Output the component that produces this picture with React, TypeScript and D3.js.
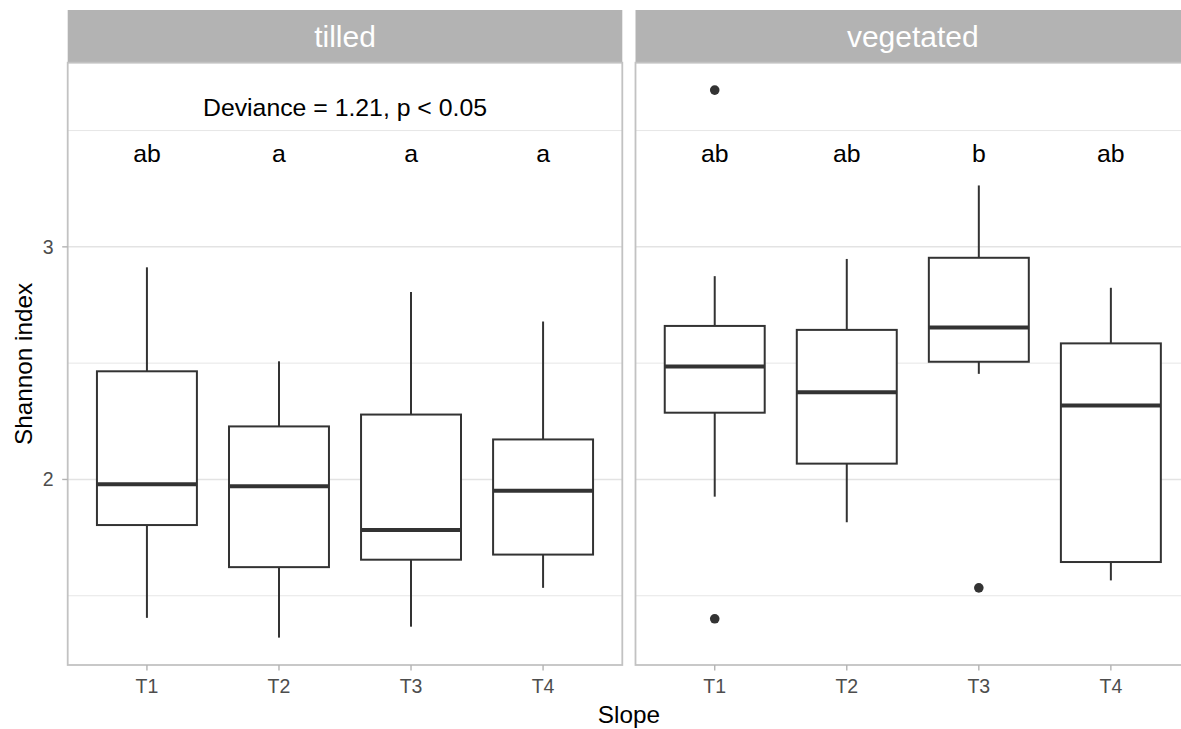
import React from "react";
import * as d3 from "d3";

const categories = ["T1", "T2", "T3", "T4"];
const facets = ["tilled", "vegetated"];

// five-number summaries per facet (order follows `facets`)
const lowerWhisker = [
  [1.405, 1.32, 1.367, 1.534],
  [1.926, 1.816, 2.454, 1.566],
];
const q1 = [
  [1.804, 1.623, 1.655, 1.677],
  [2.287, 2.068, 2.506, 1.645],
];
const medians = [
  [1.979, 1.971, 1.783, 1.951],
  [2.486, 2.375, 2.653, 2.318],
];
const q3 = [
  [2.465, 2.228, 2.279, 2.172],
  [2.66, 2.643, 2.953, 2.585],
];
const upperWhisker = [
  [2.912, 2.508, 2.806, 2.679],
  [2.874, 2.948, 3.264, 2.824],
];
const outliers = [
  [[], [], [], []],
  [[1.401, 3.674], [], [1.534], []],
];
const letters = [
  ["ab", "a", "a", "a"],
  ["ab", "ab", "b", "ab"],
];
const letterY = 3.4;
const devianceText = "Deviance = 1.21, p < 0.05";
const devianceY = 3.6;
const yTicks = [2, 3];
const yMinor = [1.5, 2.5, 3.5];

const W = 1181;
const H = 729;
const panelLeft = [67.7, 635.5];
const panelWidth = 554.6;
const panelTop = 62.7;
const panelBottom = 665;
const stripTop = 10;
const FONT = "'Liberation Sans', Arial, Helvetica, sans-serif";

export default function App() {
  const allVals: number[] = [];
  for (let f = 0; f < facets.length; f++) {
    allVals.push(...lowerWhisker[f], ...upperWhisker[f]);
    outliers[f].forEach((o) => allVals.push(...o));
  }
  const [mn, mx] = d3.extent(allVals) as [number, number];
  const pad = (mx - mn) * 0.05;
  const y = d3.scaleLinear().domain([mn - pad, mx + pad]).range([panelBottom, panelTop]);

  return (
    <svg
      width={W}
      height={H}
      style={{ position: "absolute", left: 0, top: 0, display: "block", background: "#fff" }}
      fontFamily={FONT}
    >
      <rect x={0} y={0} width={W} height={H} fill="#fff" />
      {facets.map((facet, f) => {
        const x0 = panelLeft[f];
        const x = d3
          .scalePoint<string>()
          .domain(categories)
          .range([x0, x0 + panelWidth])
          .padding(0.6);
        const step = x.step();
        const bw = step * 0.757;
        return (
          <g key={facet}>
            {/* strip */}
            <rect x={x0} y={stripTop} width={panelWidth} height={panelTop - stripTop} fill="#B3B3B3" />
            <text
              x={x0 + panelWidth / 2}
              y={(stripTop + panelTop) / 2}
              dy="0.34em"
              textAnchor="middle"
              fontSize={30}
              fill="#fff"
            >
              {facet}
            </text>
            {/* grid */}
            {yMinor.map((v) => (
              <line key={"mi" + v} x1={x0} x2={x0 + panelWidth} y1={y(v)} y2={y(v)} stroke="#E6E6E6" strokeWidth={1} />
            ))}
            {yTicks.map((v) => (
              <line key={"ma" + v} x1={x0} x2={x0 + panelWidth} y1={y(v)} y2={y(v)} stroke="#E3E3E3" strokeWidth={1.5} />
            ))}
            {/* boxes */}
            {categories.map((c, i) => {
              const cx = x(c)!;
              return (
                <g key={c} stroke="#333333" fill="none">
                  <line x1={cx} x2={cx} y1={y(upperWhisker[f][i])} y2={y(q3[f][i])} strokeWidth={2} />
                  <line x1={cx} x2={cx} y1={y(q1[f][i])} y2={y(lowerWhisker[f][i])} strokeWidth={2} />
                  <rect
                    x={cx - bw / 2}
                    y={y(q3[f][i])}
                    width={bw}
                    height={y(q1[f][i]) - y(q3[f][i])}
                    fill="#fff"
                    strokeWidth={2}
                  />
                  <line x1={cx - bw / 2} x2={cx + bw / 2} y1={y(medians[f][i])} y2={y(medians[f][i])} strokeWidth={4} />
                  {outliers[f][i].map((o, k) => (
                    <circle key={k} cx={cx} cy={y(o)} r={4.8} fill="#333333" stroke="none" />
                  ))}
                </g>
              );
            })}
            {/* letters */}
            {categories.map((c, i) => (
              <text key={"l" + c} x={x(c)!} y={y(letterY)} dy="0.35em" textAnchor="middle" fontSize={24.8} fill="#000">
                {letters[f][i]}
              </text>
            ))}
            {f === 0 && (
              <text
                x={x0 + panelWidth / 2}
                y={y(devianceY)}
                dy="0.35em"
                textAnchor="middle"
                fontSize={24.8}
                fill="#000"
              >
                {devianceText}
              </text>
            )}
            {/* border */}
            <rect
              x={x0}
              y={panelTop}
              width={panelWidth}
              height={panelBottom - panelTop}
              fill="none"
              stroke="#C2C2C2"
              strokeWidth={1.8}
            />
            {/* x ticks */}
            {categories.map((c) => (
              <g key={"xt" + c}>
                <line x1={x(c)!} x2={x(c)!} y1={panelBottom} y2={panelBottom + 5.5} stroke="#B3B3B3" strokeWidth={1.4} />
                <text x={x(c)!} y={693.3} textAnchor="middle" fontSize={19.5} fill="#4D4D4D">
                  {c}
                </text>
              </g>
            ))}
          </g>
        );
      })}
      {/* y axis */}
      {yTicks.map((v) => (
        <g key={"yt" + v}>
          <line x1={panelLeft[0] - 5.5} x2={panelLeft[0]} y1={y(v)} y2={y(v)} stroke="#B3B3B3" strokeWidth={1.4} />
          <text x={53.5} y={y(v)} dy="0.35em" textAnchor="end" fontSize={19.5} fill="#4D4D4D">
            {v}
          </text>
        </g>
      ))}
      <text
        transform={`translate(31.7, ${(panelTop + panelBottom) / 2}) rotate(-90)`}
        textAnchor="middle"
        fontSize={24.3}
        fill="#000"
      >
        Shannon index
      </text>
      <text x={(panelLeft[0] + panelLeft[1] + panelWidth) / 2} y={723.3} textAnchor="middle" fontSize={24.3} fill="#000">
        Slope
      </text>
    </svg>
  );
}
